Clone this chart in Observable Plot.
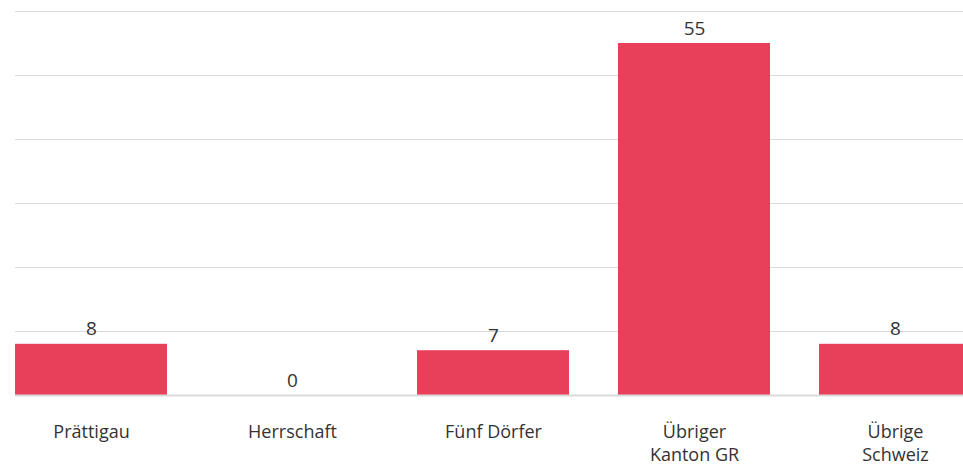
<!DOCTYPE html>
<html>
<head>
<meta charset="utf-8">
<script src="https://cdn.jsdelivr.net/npm/d3@7"></script>
<script src="https://cdn.jsdelivr.net/npm/@observablehq/plot@0.6"></script>
<style>
  html, body { margin: 0; padding: 0; background: #fff; overflow: hidden; }
  #chart svg { display: block; }
</style>
</head>
<body>
<div id="chart"></div>
<script>
const regions = ["Prättigau", "Herrschaft", "Fünf Dörfer", "Übriger Kanton GR", "Übrige Schweiz"];
const tickLabels = ["Prättigau", "Herrschaft", "Fünf Dörfer", "Übriger\nKanton GR", "Übrige\nSchweiz"];
const values = [8, 0, 7, 55, 8];
const yTicks = [0, 10, 20, 30, 40, 50, 60];

const data = regions.map((r, i) => ({region: r, value: values[i], label: tickLabels[i]}));
const labelOf = new Map(data.map(d => [d.region, d.label]));

const chart = Plot.plot({
  width: 963,
  height: 466,
  marginTop: 11,
  marginBottom: 71,
  marginLeft: 15,
  marginRight: 0,
  style: {fontFamily: "'Open Sans', sans-serif", color: "#333", background: "#fff"},
  x: {domain: regions, range: [15, 971], paddingInner: 0.2438, paddingOuter: 0, axis: null},
  y: {domain: [0, 60], axis: null},
  marks: [
    Plot.gridY(yTicks.filter(t => t > 0), {stroke: "#d9d9d9", strokeOpacity: 1, strokeWidth: 1}),
    Plot.barY(data, {x: "region", y: "value", fill: "#e8405a"}),
    Plot.ruleY([0], {stroke: "#dadada", strokeWidth: 2}),
    Plot.text(data, {x: "region", y: "value", text: d => String(d.value), lineAnchor: "bottom", dy: -9, fontSize: 19, fill: "#333"}),
    Plot.axisX({tickSize: 0, tickPadding: 26, fontSize: 18, lineHeight: 1.28, label: null, tickFormat: d => labelOf.get(d), fill: "#333"})
  ]
});
document.getElementById("chart").appendChild(chart);
</script>
</body>
</html>
